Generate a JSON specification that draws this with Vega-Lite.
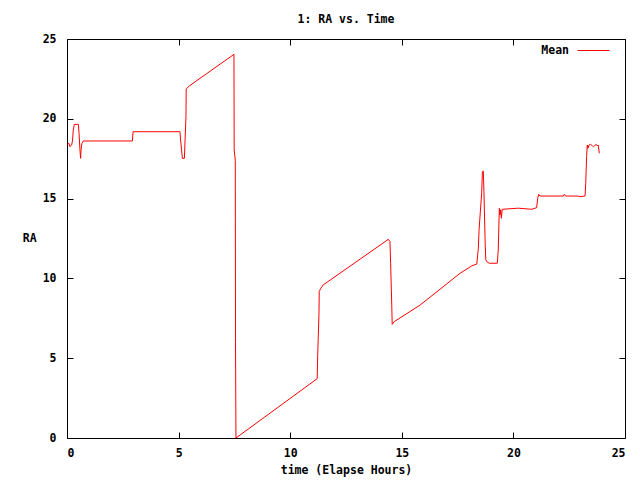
{
  "$schema": "https://vega.github.io/schema/vega-lite/v6.json",
  "width": 558,
  "height": 399,
  "autosize": {"type": "none"},
  "padding": {"left": 67, "top": 39, "right": 15, "bottom": 42},
  "background": "white",
  "title": {"text": "1: RA vs. Time", "font": "DejaVu Sans Mono", "fontSize": 11.5, "fontWeight": "bold", "color": "black", "offset": 8, "anchor": "middle"},
  "config": {
    "view": {"stroke": "black", "strokeWidth": 1},
    "axis": {
      "grid": false,
      "domain": false,
      "tickColor": "black",
      "tickSize": -6,
      "tickWidth": 1,
      "labelFont": "DejaVu Sans Mono",
      "labelFontSize": 11.5,
      "labelFontWeight": "bold",
      "labelColor": "black",
      "titleFont": "DejaVu Sans Mono",
      "titleFontSize": 11.5,
      "titleFontWeight": "bold",
      "titleColor": "black"
    }
  },
  "data": {
    "values": [
      {"t": 0.01, "ra": 18.4},
      {"t": 0.09, "ra": 18.46},
      {"t": 0.13, "ra": 18.25},
      {"t": 0.21, "ra": 18.36},
      {"t": 0.25, "ra": 18.67},
      {"t": 0.28, "ra": 19.3},
      {"t": 0.33, "ra": 19.65},
      {"t": 0.51, "ra": 19.65},
      {"t": 0.54, "ra": 19.09},
      {"t": 0.58, "ra": 18.05},
      {"t": 0.61, "ra": 17.52},
      {"t": 0.63, "ra": 18.05},
      {"t": 0.67, "ra": 18.46},
      {"t": 0.73, "ra": 18.61},
      {"t": 2.93, "ra": 18.61},
      {"t": 2.96, "ra": 19.19},
      {"t": 5.06, "ra": 19.19},
      {"t": 5.09, "ra": 18.67},
      {"t": 5.17, "ra": 17.52},
      {"t": 5.26, "ra": 17.52},
      {"t": 5.29, "ra": 18.67},
      {"t": 5.33, "ra": 20.13},
      {"t": 5.34, "ra": 21.87},
      {"t": 5.48, "ra": 22.06},
      {"t": 7.48, "ra": 24.04},
      {"t": 7.49, "ra": 18.05},
      {"t": 7.54, "ra": 17.4},
      {"t": 7.55, "ra": 6.0},
      {"t": 7.57, "ra": 0.0},
      {"t": 9.96, "ra": 2.44},
      {"t": 11.21, "ra": 3.72},
      {"t": 11.23, "ra": 5.09},
      {"t": 11.29, "ra": 7.81},
      {"t": 11.3, "ra": 9.17},
      {"t": 11.37, "ra": 9.38},
      {"t": 11.48, "ra": 9.59},
      {"t": 14.4, "ra": 12.45},
      {"t": 14.47, "ra": 12.3},
      {"t": 14.5, "ra": 10.95},
      {"t": 14.55, "ra": 8.33},
      {"t": 14.57, "ra": 7.12},
      {"t": 14.66, "ra": 7.29},
      {"t": 15.82, "ra": 8.33},
      {"t": 17.61, "ra": 10.32},
      {"t": 18.13, "ra": 10.78},
      {"t": 18.36, "ra": 10.9},
      {"t": 18.43, "ra": 11.9},
      {"t": 18.46, "ra": 13.0},
      {"t": 18.58, "ra": 15.4},
      {"t": 18.61, "ra": 16.68},
      {"t": 18.65, "ra": 16.73},
      {"t": 18.68, "ra": 15.43},
      {"t": 18.73, "ra": 12.5},
      {"t": 18.76, "ra": 11.2},
      {"t": 18.8, "ra": 11.05},
      {"t": 18.92, "ra": 10.95},
      {"t": 19.28, "ra": 10.95},
      {"t": 19.32, "ra": 11.78},
      {"t": 19.37, "ra": 14.39},
      {"t": 19.4, "ra": 13.97},
      {"t": 19.43, "ra": 14.3},
      {"t": 19.46, "ra": 13.77},
      {"t": 19.5, "ra": 14.33},
      {"t": 20.22, "ra": 14.4},
      {"t": 20.82, "ra": 14.33},
      {"t": 21.04, "ra": 14.43},
      {"t": 21.09, "ra": 15.02},
      {"t": 21.13, "ra": 15.27},
      {"t": 21.19, "ra": 15.16},
      {"t": 22.24, "ra": 15.16},
      {"t": 22.28, "ra": 15.27},
      {"t": 22.34, "ra": 15.16},
      {"t": 22.9, "ra": 15.16},
      {"t": 22.95, "ra": 15.12},
      {"t": 23.21, "ra": 15.16},
      {"t": 23.24, "ra": 15.96},
      {"t": 23.28, "ra": 17.63},
      {"t": 23.31, "ra": 18.36},
      {"t": 23.34, "ra": 18.15},
      {"t": 23.39, "ra": 18.36},
      {"t": 23.46, "ra": 18.4},
      {"t": 23.54, "ra": 18.3},
      {"t": 23.59, "ra": 18.25},
      {"t": 23.67, "ra": 18.36},
      {"t": 23.71, "ra": 18.4},
      {"t": 23.76, "ra": 18.3},
      {"t": 23.8, "ra": 18.36},
      {"t": 23.85, "ra": 17.84}
    ]
  },
  "layer": [
    {
      "mark": {"type": "line", "strokeWidth": 1, "interpolate": "linear"},
      "encoding": {
        "x": {"field": "t", "type": "quantitative", "scale": {"domain": [0, 25], "nice": false, "zero": false},
              "axis": {"title": "time (Elapse Hours)", "values": [0, 5, 10, 15, 20, 25], "labelPadding": 15, "titlePadding": 6}},
        "y": {"field": "ra", "type": "quantitative", "scale": {"domain": [0, 25], "nice": false},
              "axis": {"title": "RA", "values": [0, 5, 10, 15, 20, 25], "labelPadding": 17, "titleAngle": 0, "titleAlign": "right", "titleBaseline": "middle", "titlePadding": 6}},
        "color": {"datum": "Mean", "type": "nominal", "scale": {"range": ["#ff0000"]},
                  "legend": {"title": null, "orient": "none", "legendX": 510, "legendY": -5, "padding": 0,
                             "symbolType": "stroke", "symbolSize": 1024, "symbolStrokeWidth": 1,
                             "labelAlign": "right", "labelOffset": -41,
                             "labelFont": "DejaVu Sans Mono", "labelFontSize": 11.5, "labelFontWeight": "bold", "labelColor": "black"}}
      }
    },
    {
      "mark": {"type": "line", "opacity": 0},
      "encoding": {
        "x": {"field": "t", "type": "quantitative",
              "axis": {"orient": "top", "labels": false, "title": null, "values": [0, 5, 10, 15, 20, 25]}},
        "y": {"field": "ra", "type": "quantitative",
              "axis": {"orient": "right", "labels": false, "title": null, "values": [0, 5, 10, 15, 20, 25]}}
      }
    }
  ],
  "resolve": {"axis": {"x": "independent", "y": "independent"}}
}
